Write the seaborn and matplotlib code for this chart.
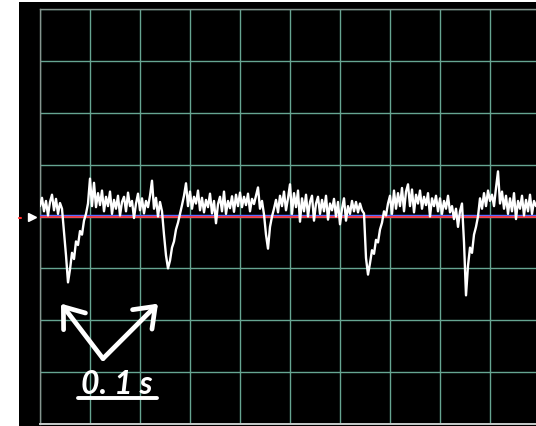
import numpy as np
import pandas as pd
import matplotlib
matplotlib.use("Agg")
import matplotlib.pyplot as plt
from matplotlib.patches import Rectangle, FancyArrowPatch
from matplotlib.lines import Line2D
import seaborn as sns

# Recorded trace, one sample every 2 ms; amplitude in tenths of a screen division
sample_step_ms = 2
trace = [
    2.0, 3.6, 1.0, 3.0, 0.2, 2.8, 4.2, 1.2, 3.4, 0.5,
    2.6, 1.5, -3.0, -7.5, -12.7, -10.2, -7.0, -8.2, -4.8, -5.5,
    -2.8, -3.5, -0.8, 0.5, 2.5, 7.3, 2.0, 6.5, 1.8, 4.5,
    2.2, 5.0, 1.0, 3.8, 2.0, 4.8, 0.5, 3.2, 1.5, 4.0,
    0.2, 2.8, 3.8, 1.0, 4.6, 2.0, 3.0, -0.3, 2.5, 4.4,
    1.2, 3.5, 0.6, 3.0, 1.8, 4.0, 6.9, 1.5, 3.6, 0.0,
    2.8, 1.0, -3.5, -7.5, -10.0, -8.5, -6.0, -4.8, -2.5, -1.2,
    0.5, 2.2, 4.0, 6.4, 2.0, 4.8, 1.5, 3.8, 2.5, 5.0,
    1.2, 3.6, 0.8, 3.2, 1.8, 4.4, 0.6, 3.0, -1.3, 2.4,
    3.8, 1.0, 4.8, 0.5, 3.0, 1.6, 3.9, 0.9, 4.2, 2.0,
    4.6, 1.8, 3.8, 2.2, 4.4, 1.0, 3.4, 2.4, 4.0, 5.6,
    1.5, 3.0, 0.4, -3.5, -6.2, -2.0, 0.0, 1.5, 3.2, 0.8,
    4.0, 2.0, 4.8, 1.2, 3.5, 6.2, 0.5, 4.5, 1.8, 5.0,
    -1.0, 3.5, 1.0, 4.2, 0.0, 2.8, 4.0, -0.8, 2.5, 3.8,
    0.5, 3.2, 1.0, 4.0, -0.6, 2.5, 1.2, 3.4, 0.0, 2.8,
    -1.5, 1.5, 3.5, -0.8, 2.0, 0.5, 3.0, 1.0, 2.8, 0.8,
    2.5, 1.2, 0.6, -8.0, -11.2, -9.0, -6.5, -7.2, -4.5, -5.0,
    -2.5, -1.2, 1.0, 0.2, 2.5, 4.0, 0.5, 5.0, 1.5, 4.5,
    2.0, 5.5, 1.0, 4.8, 6.2, 2.0, 5.2, 0.8, 4.2, 2.5,
    5.0, 1.5, 3.8, 2.2, 4.5, 0.0, 3.5, 2.0, 4.0, 1.0,
    3.5, 0.5, 3.0, 1.5, 4.0, 0.8, 2.0, -0.5, 1.5, -2.0,
    1.0, 2.5, -5.0, -15.2, -9.5, -6.0, -7.0, -3.5, -2.0, 0.0,
    3.5, 1.5, 4.5, 2.0, 5.0, 3.0, 4.2, 2.0, 5.5, 8.7,
    2.5, 4.8, 1.5, 4.0, 0.5, 3.5, 1.0, 4.5, -0.5, 3.0,
    1.5, 4.0, 0.2, 3.2, 1.0, 4.2, 0.5, 3.0, 2.0,
]
scale_label = "0. 1 s"

time_ms = np.arange(len(trace)) * sample_step_ms
df = pd.DataFrame({"t": time_ms, "v": trace})

sns.set_style("dark")
W, H = 536, 427
fig = plt.figure(figsize=(W / 100, H / 100), dpi=100, facecolor="white")

# black screen area, behind the axes
fig.patches.append(Rectangle((19 / W, 0), 1 - 19 / W, 1 - 3 / H,
                             transform=fig.transFigure, facecolor="black",
                             edgecolor="none", zorder=-10))

# graticule: 10 x 8 divisions, 50 ms per horizontal division
ax = fig.add_axes([40 / W, 2 / H, 500 / W, 415 / H])
ax.set_facecolor("black")
ax.set_xlim(0, 500)
ax.set_ylim(-40, 40)
ax.set_xticks(np.arange(0, 501, 50))
ax.set_yticks(np.arange(-40, 41, 10))
ax.tick_params(length=0, labelbottom=False, labelleft=False)
ax.grid(True, color="#66a592", linewidth=1.0)
for side in ("left", "top"):
    ax.spines[side].set_color("#86958f")
    ax.spines[side].set_linewidth(1.0)
ax.spines["bottom"].set_color("#c8cccb")
ax.spines["bottom"].set_linewidth(1.4)
ax.spines["right"].set_visible(False)

# reference level (blue over red)
ax.axhline(0.25, color="#5a6cff", linewidth=1.0, zorder=3)
ax.axhline(-0.05, color="#ff3a4a", linewidth=1.3, zorder=3)

sns.lineplot(data=df, x="t", y="v", ax=ax, color="white", linewidth=1.7,
             estimator=None, sort=False, zorder=4)
ax.set_xlabel("")
ax.set_ylabel("")

# channel marker left of the screen
ax.plot([-8], [0], marker=">", color="white", markersize=6, clip_on=False,
        linestyle="none")
ax.plot([-21, -19], [-0.3, -0.3], color="#ff2a2a", linewidth=1.5, clip_on=False)

# time scale annotation
vertex = (63, -27.4)
for tip in [(21, -16.8), (118, -16.8)]:
    ax.add_patch(FancyArrowPatch(vertex, tip, arrowstyle="->,head_length=0.6,head_width=0.45",
                                 color="white", linewidth=3.4, mutation_scale=22,
                                 shrinkA=0, shrinkB=0, zorder=6))
ax.text(77, -32.2, scale_label, color="white", fontsize=23, fontweight="bold",
        fontstyle="italic", family="Lato", ha="center", va="center", zorder=6)
ax.add_line(Line2D([38, 117], [-34.9, -34.9], color="white", linewidth=2.8, zorder=6))

fig.savefig("out.png", dpi=100, facecolor="white")
